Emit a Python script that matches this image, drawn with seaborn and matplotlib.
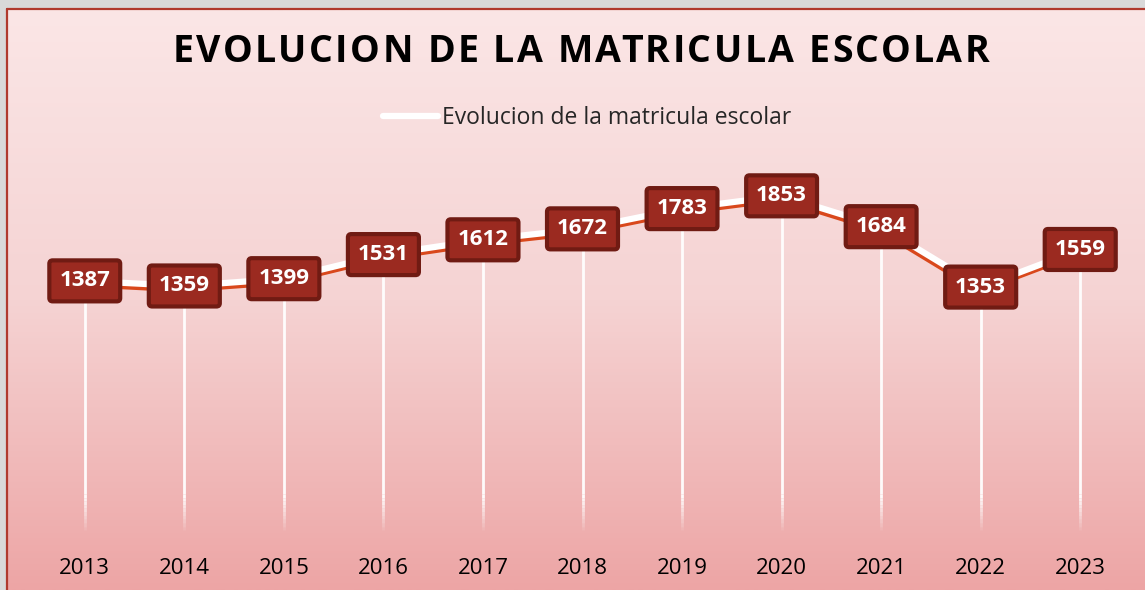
import numpy as np
import pandas as pd
import matplotlib
matplotlib.use("Agg")
import matplotlib.pyplot as plt
import matplotlib.transforms as mtransforms
from matplotlib.lines import Line2D
from matplotlib.colors import LinearSegmentedColormap
import seaborn as sns

# data
years = ["2013", "2014", "2015", "2016", "2017", "2018", "2019", "2020", "2021", "2022", "2023"]
matricula = [1387, 1359, 1399, 1531, 1612, 1672, 1783, 1853, 1684, 1353, 1559]
serie = "Evolucion de la matricula escolar"
titulo = "EVOLUCION DE LA MATRICULA ESCOLAR"

df = pd.DataFrame({"pos": range(len(years)), "anio": years, "matricula": matricula})

sns.set_theme(style="white")
plt.rcParams["font.family"] = ["Open Sans", "DejaVu Sans"]

W, H = 1145, 590
fig = plt.figure(figsize=(W / 100, H / 100), dpi=100, facecolor="#d9d9d9")

# gradient background
bg = fig.add_axes([8 / W, 0, 1 - 8 / W, (H - 10) / H])
cmap = LinearSegmentedColormap.from_list("bg", ["#fbe6e6", "#f5d3d3", "#eda5a5"])
grad = np.linspace(0, 1, 256).reshape(-1, 1)
bg.imshow(grad, aspect="auto", cmap=cmap, extent=[0, 1, 0, 1], origin="upper")
bg.set_axis_off()

# red frame (top and left)
fig.add_artist(Line2D([7 / W, 7 / W], [0, (H - 9) / H], color="#b03a2e", lw=1.6))
fig.add_artist(Line2D([7 / W, 1], [(H - 9) / H, (H - 9) / H], color="#b03a2e", lw=1.6))

ax = fig.add_axes([35 / W, 56 / H, 1095 / W, 365 / H])
ax.set_facecolor("none")
ax.patch.set_alpha(0)

# drop lines, fading out at the bottom
for x, v in zip(df["pos"], df["matricula"]):
    ax.vlines(x, 220, v, color="white", lw=2, alpha=0.95, zorder=1)
    steps = np.linspace(20, 220, 11)
    for i in range(10):
        ax.vlines(x, steps[i], steps[i + 1], color="white", lw=2,
                  alpha=0.95 * (i + 1) / 10, zorder=1)

# orange shadow line + white line
shadow = mtransforms.offset_copy(ax.transData, fig=fig, x=-1, y=-4, units="dots")
sns.lineplot(data=df, x="pos", y="matricula", ax=ax, color="#d9481c", lw=3.5,
             transform=shadow, zorder=2, legend=False)
sns.lineplot(data=df, x="pos", y="matricula", ax=ax, color="white", lw=4.5,
             zorder=3, legend=False)

# value labels
for x, v in zip(df["pos"], df["matricula"]):
    ax.text(x, v, f"{v}", ha="center", va="center", color="white",
            fontsize=16, fontweight="bold", zorder=5,
            bbox=dict(boxstyle="round,pad=0.45,rounding_size=0.15",
                      fc="#9b2a20", ec="#701b13", lw=3))

ax.set_xlim(-0.5, len(years) - 0.5)
ax.set_ylim(0, 2000)
ax.set_xticks(df["pos"], labels=df["anio"], fontsize=16, color="black")
ax.tick_params(axis="x", length=0, pad=17)
ax.set_yticks([])
ax.set_xlabel("")
ax.set_ylabel("")
for s in ax.spines.values():
    s.set_visible(False)

# letter-spaced title
renderer = fig.canvas.get_renderer()
tkw = dict(fontsize=27, fontweight="bold", color="black")


def text_w(s):
    t = fig.text(0, 0, s, **tkw)
    w = t.get_window_extent(renderer).width
    t.remove()
    return w


natural = text_w(titulo)
target = 817
track = (target - natural) / (len(titulo) - 1)
x0 = 581 - target / 2
for i, ch in enumerate(titulo):
    if ch == " ":
        continue
    start = text_w(titulo[:i + 1]) - text_w(ch) if i > 0 else 0
    fig.text((x0 + start + i * track) / W, 1 - 52 / H, ch, ha="left",
             va="center", **tkw)

handle = Line2D([], [], color="white", lw=4.5)
fig.legend([handle], [serie], loc="center", bbox_to_anchor=(587 / W, 1 - 118 / H),
           frameon=False, fontsize=16.5, handlelength=2.4, handletextpad=0.2)

fig.savefig("out.png", dpi=100, facecolor=fig.get_facecolor())
